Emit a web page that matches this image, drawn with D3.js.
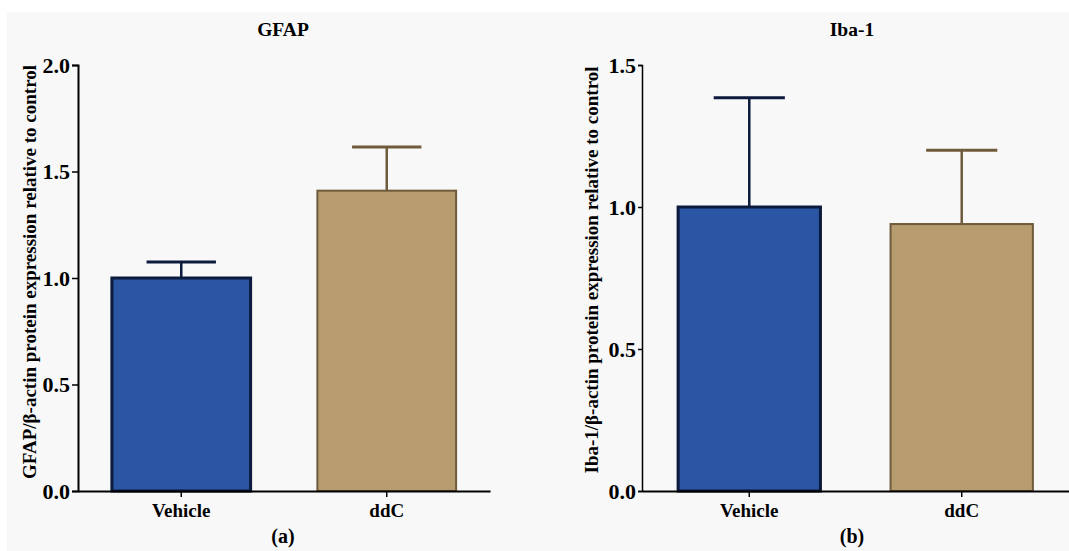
<html>
<head>
  <meta charset="UTF-8">
  <title>GFAP and Iba-1 expression</title>
  <style>
    body { margin: 0; padding: 0; background: #ffffff; }
    svg { display: block; }
    svg text { font-family: "Liberation Serif", "Times New Roman", serif; font-weight: bold; fill: #000; }
  </style>
</head>
<body>
  <svg id="chart" width="1069" height="551"></svg>
  <script src="https://cdnjs.cloudflare.com/ajax/libs/d3/7.8.4/d3.min.js"></script>
  <script>
    // data
    const groups = ["Vehicle", "ddC"];
    const gfapMeans = [1.0, 1.41];
    const gfapErrors = [0.075, 0.205];
    const ibaMeans = [1.0, 0.94];
    const ibaErrors = [0.385, 0.26];
    const gfapTicks = [0.0, 0.5, 1.0, 1.5, 2.0];
    const ibaTicks = [0.0, 0.5, 1.0, 1.5];

    const fills = ["#2b56a4", "#b69c6e"];
    const strokes = ["#0c1a3c", "#6f5b3b"];

    const svg = d3.select("#chart");

    // light grey page like the scanned figure
    svg.append("rect")
      .attr("x", 7).attr("y", 12)
      .attr("width", 1062).attr("height", 539)
      .attr("fill", "#f8f8f8");

    function drawPanel(opt) {
      const g = svg.append("g");
      const y = d3.scaleLinear().domain([0, opt.max]).range([491, 65]);
      const x = d3.scaleBand().domain(groups)
        .range([opt.x0, opt.x1])
        .paddingInner(opt.padIn)
        .paddingOuter(opt.padOut);

      // bars
      g.selectAll("rect.bar")
        .data(groups)
        .enter()
        .append("rect")
        .attr("class", "bar")
        .attr("x", d => x(d))
        .attr("y", (d, i) => y(opt.means[i]))
        .attr("width", x.bandwidth())
        .attr("height", (d, i) => y(0) - y(opt.means[i]))
        .attr("fill", (d, i) => fills[i])
        .attr("stroke", (d, i) => strokes[i])
        .attr("stroke-width", (d, i) => i === 0 ? 3 : 2);

      // error bars (upper only)
      groups.forEach((d, i) => {
        const cx = x(d) + x.bandwidth() / 2;
        const top = y(opt.means[i] + opt.errors[i]);
        const capHalf = x.bandwidth() / 4;
        g.append("line")
          .attr("x1", cx).attr("x2", cx)
          .attr("y1", y(opt.means[i])).attr("y2", top)
          .attr("stroke", strokes[i]).attr("stroke-width", 2.5);
        g.append("line")
          .attr("x1", cx - capHalf).attr("x2", cx + capHalf)
          .attr("y1", top).attr("y2", top)
          .attr("stroke", strokes[i]).attr("stroke-width", 3);
      });

      // y axis
      const yAxis = g.append("g")
        .attr("transform", `translate(${opt.x0},0)`)
        .call(d3.axisLeft(y).tickValues(opt.ticks).tickFormat(d3.format(".1f"))
          .tickSize(opt.tick).tickSizeOuter(opt.tick).tickPadding(2));
      yAxis.attr("font-family", null).attr("font-size", null);
      yAxis.select(".domain").attr("stroke", "#000").attr("stroke-width", opt.axisW);
      yAxis.selectAll(".tick line").attr("stroke", "#000").attr("stroke-width", 1.5);
      yAxis.selectAll(".tick text")
        .style("font-size", "22px")
        .attr("dy", "0.34em");

      // x axis
      const xAxis = g.append("g")
        .attr("transform", `translate(0,${y(0)})`)
        .call(d3.axisBottom(x).tickSize(6).tickSizeOuter(0).tickPadding(7));
      xAxis.attr("font-family", null).attr("font-size", null);
      xAxis.select(".domain").attr("stroke", "#000").attr("stroke-width", 2);
      xAxis.selectAll(".tick line").attr("stroke", "#000").attr("stroke-width", 1.5);
      xAxis.selectAll(".tick text")
        .style("font-size", "19px");

      // y label
      g.append("text")
        .attr("transform", `translate(${opt.labelX},${opt.labelY}) rotate(-90)`)
        .attr("text-anchor", "middle")
        .attr("dy", "0.35em")
        .style("font-size", "19px")
        .text(opt.yLabel);

      // title
      g.append("text")
        .attr("x", opt.titleX).attr("y", 36)
        .attr("text-anchor", "middle")
        .style("font-size", "19.5px")
        .text(opt.title);

      // panel letter
      g.append("text")
        .attr("x", opt.titleX).attr("y", 543)
        .attr("text-anchor", "middle")
        .style("font-size", "20px")
        .text(opt.caption);
    }

    drawPanel({
      title: "GFAP", caption: "(a)",
      yLabel: "GFAP/\u03b2-actin protein expression relative to control",
      means: gfapMeans, errors: gfapErrors, ticks: gfapTicks, max: 2.0,
      x0: 78, x1: 490, padIn: 0.325, padOut: 0.165, tick: 6, axisW: 2,
      labelX: 29, labelY: 272, titleX: 283
    });

    drawPanel({
      title: "Iba-1", caption: "(b)",
      yLabel: "Iba-1/\u03b2-actin protein expression relative to control",
      means: ibaMeans, errors: ibaErrors, ticks: ibaTicks, max: 1.5,
      x0: 642, x1: 1069, padIn: 0.33, padOut: 0.17, tick: 4, axisW: 1.5,
      labelX: 591, labelY: 270, titleX: 852
    });
  </script>
</body>
</html>
